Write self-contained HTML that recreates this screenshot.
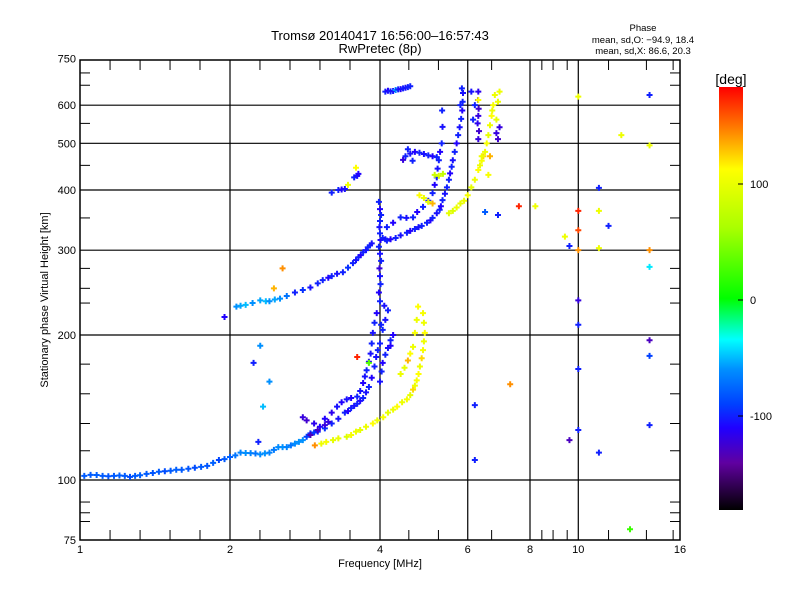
<!DOCTYPE html>
<html><head><meta charset="utf-8">
<style>
html,body{margin:0;padding:0;background:#fff;}
svg{display:block;font-family:"Liberation Sans",sans-serif;}
</style></head>
<body>
<svg id="chart" width="800" height="600" viewBox="0 0 800 600" xmlns="http://www.w3.org/2000/svg">
<defs>
<linearGradient id="cbar" x1="0" y1="1" x2="0" y2="0">
<stop offset="0" stop-color="#000000"/>
<stop offset="0.111" stop-color="#6000a0"/>
<stop offset="0.194" stop-color="#2000ff"/>
<stop offset="0.25" stop-color="#0040ff"/>
<stop offset="0.333" stop-color="#0090ff"/>
<stop offset="0.403" stop-color="#00ffff"/>
<stop offset="0.5" stop-color="#00ff00"/>
<stop offset="0.667" stop-color="#aaff00"/>
<stop offset="0.806" stop-color="#ffff00"/>
<stop offset="0.9" stop-color="#ff8000"/>
<stop offset="1" stop-color="#ff0000"/>
</linearGradient>
</defs>
<text x="380" y="40" text-anchor="middle" font-size="13">Tromsø 20140417 16:56:00–16:57:43</text>
<text x="380" y="53" text-anchor="middle" font-size="13">RwPretec (8p)</text>
<text x="643" y="31" text-anchor="middle" font-size="9.5">Phase</text>
<text x="643" y="43" text-anchor="middle" font-size="9.5">mean, sd,O: −94.9, 18.4</text>
<text x="643" y="54" text-anchor="middle" font-size="9.5">mean, sd,X:  86.6, 20.3</text>
<g id="grid"></g>
<g id="points"></g>
<rect x="80" y="60" width="600" height="480" fill="none" stroke="#000" stroke-width="1.5"/>
<g id="ticks"></g>
<text x="380" y="567" text-anchor="middle" font-size="11">Frequency [MHz]</text>
<text x="48" y="300" text-anchor="middle" font-size="11" transform="rotate(-90 48 300)">Stationary phase Virtual Height [km]</text>
<rect x="719" y="87" width="24" height="423" fill="url(#cbar)"/>
<text x="731" y="84" text-anchor="middle" font-size="14">[deg]</text>
<g id="cbticks"></g>
</svg>
<script>
// ---- axis tick data ----
const xMajor=[1,2,4,6,8,10,16];
const xMinor=[1.149,1.32,1.516,1.741,2.297,2.639,3.031,3.482,4.57,5.24,6.7,8.45,8.9,9.5,11.5,13.7,15.5];
const yMajor=[75,100,200,300,400,500,600,750];
const yMinor=[82,85.5,90,115,131,151,174,233,250,275,350,450,550,660,700];
const cbLabels=[100,0,-100];

// ---- series data: frequency [MHz], height [km], phase [deg] ----
const eoFreq=[1.02,1.05,1.08,1.11,1.14,1.17,1.2,1.23,1.26,1.29,1.32,1.36,1.4,1.44,1.48,1.52,1.56,1.6,1.65,1.7,1.75,1.8,1.85,1.9,1.95,2.0,2.05,2.1,2.15,2.2,2.25,2.3,2.35,2.4,2.45,2.5,2.55,2.6,2.65,2.7,2.75,2.8,2.85,2.9,2.95,3.0,3.1,3.2,3.3,3.4,3.45,3.5,3.55,3.6,3.65,3.7,3.75,3.8,3.85,3.9,3.93,3.96,4.0];
const eoHeight=[102,102.5,102.4,102,101.8,102,102.2,102,101.5,102,102.3,103,103.4,104,104.3,104.5,105,105,105.5,106,106.5,107,108.5,110,110.5,111.6,112.5,114,113.8,113.7,113.5,113,113.6,114,115.5,117,117,117,118,119,120,121,123,125,125.5,126,128,131,134,138,139,141,142.5,144,146,148,152,156,163,172,180,186,192];
const eoPhase=[-80,-80,-78,-80,-82,-80,-78,-80,-85,-80,-78,-80,-82,-80,-85,-80,-78,-80,-82,-85,-80,-82,-78,-88,-80,-78,-70,-65,-60,-65,-70,-62,-60,-65,-68,-62,-60,-65,-70,-62,-60,-60,-90,-95,-92,-100,-95,-100,-105,-100,-110,-100,-105,-100,-108,-100,-105,-100,-110,-100,-105,-100,-100];

const e2Freq=[2.8,2.85,2.95,3.03,3.1,3.2,3.28,3.35,3.43,3.5,3.6,3.65,3.7,3.73,3.76,3.8,3.83,3.85,3.87,3.9,3.94,2.9,3.0,3.1,3.15];
const e2Height=[135,133,131,129,134,138,142,145,147,148,149,153,159,164,169,176,183,192,202,212,222,124,127,130,132];
const e2Phase=[-120,-125,-115,-110,-110,-115,-105,-110,-105,-110,-100,-105,-110,-105,-100,-110,-105,-100,-105,-100,-110,-130,-125,-120,-120];

const e3Freq=[4.0,4.03,4.05,4.1,4.15,4.2,4.25,4.05,4.1,4.15,4.2,4.02,4.08];
const e3Height=[160,168,175,182,188,195,200,205,215,225,190,210,230];
const e3Phase=[-105,-100,-110,-100,-105,-100,-110,-100,-105,-100,-110,-100,-105];

const exFreq=[2.96,3.05,3.12,3.22,3.3,3.43,3.5,3.58,3.65,3.75,3.87,3.95,4.06,4.15,4.25,4.33,4.43,4.53,4.6,4.66,4.7,4.74,4.78,4.81,4.85,4.88,4.9,4.92,4.9,4.88,4.4,4.48,4.55,4.6,4.66,4.7,4.74,4.77];
const exHeight=[118,119,120,121,122,123,124,126,127,129,131,133,135,138,140,142,145,147,150,154,157,161,166,172,179,186,194,202,212,222,166,171,177,183,189,202,215,229];
const exPhase=[140,100,105,95,100,90,105,100,95,100,110,100,105,95,100,110,100,105,95,120,100,105,110,100,120,105,100,110,100,105,100,95,130,110,100,105,100,110];

const e4Freq=[2.06,2.1,2.15,2.22,2.3,2.36,2.4,2.46,2.52,2.6,2.7,2.8,2.9,3.0,3.07,3.15,3.2,3.28,3.37,3.45,3.53,3.58,3.62,3.66,3.7,3.75,3.78,3.82,3.85];
const e4Height=[229,230,231,233,236,235,235,237,238,241,245,248,251,256,260,263,265,268,270,276,282,286,290,293,297,300,304,307,310];
const e4Phase=[-60,-55,-50,-60,-55,-50,-60,-55,-60,-70,-100,-95,-105,-100,-100,-110,-100,-105,-100,-95,-100,-105,-100,-110,-100,-105,-100,-100,-105];

const vFreq=[4.0,3.98,4.01,4.0,3.99,4.02,4.0,3.98,4.01,4.0,3.99,4.0,4.02,4.0,3.98];
const vHeight=[235,245,255,265,275,285,295,305,315,325,335,345,355,365,378];
const vPhase=[-100,-110,-100,-105,-120,-100,-105,-100,-110,-100,-105,-100,-100,-110,-100];

const f2oFreq=[4.05,4.1,4.13,4.2,4.3,4.4,4.53,4.6,4.7,4.78,4.85,4.97,5.05,5.1,5.2,5.27,5.3,5.34,5.4,5.45,5.5,5.53,5.57,5.6,5.65,5.7,5.74,5.78,5.82,5.85,5.86,5.87,5.84,5.8];
const f2oHeight=[318,316,314,316,318,322,326,329,332,335,337,342,346,350,358,364,370,381,393,405,420,433,447,461,480,500,520,540,562,585,610,636,650,600];
const f2oPhase=[-100,-105,-100,-110,-100,-105,-100,-110,-100,-105,-100,-100,-110,-100,-105,-100,-110,-100,-105,-100,-100,-110,-100,-105,-100,-110,-100,-105,-100,-110,-100,-105,-100,-100];

const f2bFreq=[4.13,4.25,4.4,4.52,4.66,4.75,4.88,5.0,5.1,5.15,5.2,5.22,5.25,5.28,5.32,5.34,5.33,4.5,4.6,4.7,4.8,4.9,5.0,5.1,5.2,4.45,4.55,4.65];
const f2bHeight=[335,342,351,350,351,360,369,380,394,410,425,443,461,480,500,541,585,470,476,480,478,475,472,470,468,462,486,460];
const f2bPhase=[-100,-110,-100,-105,-100,-110,-100,-105,-100,-110,-100,-105,-100,-110,-100,-105,-100,-100,-105,-110,-100,-105,-100,-110,-100,-120,-100,-100];

const f2cFreq=[6.3,6.32,6.28,6.3,6.31,6.29,6.3,6.9,6.85,6.95,6.15,6.2,6.1];
const f2cHeight=[510,530,550,570,590,615,640,510,525,540,560,600,640];
const f2cPhase=[-120,-125,-115,-120,-125,-120,-115,-125,-120,-120,-100,-100,-105];

const f2xFreq=[5.5,5.6,5.7,5.8,4.8,4.9,5.0,5.1,5.15,5.25,5.35,5.9,6.0,6.1,6.2,6.3,6.35,6.4,6.45,6.5,6.55,6.6,6.65,6.7,6.72,6.75,6.8,6.85,6.9,6.6,6.65,6.95,6.3,6.4];
const f2xHeight=[358,362,368,375,390,385,378,375,430,428,432,380,390,405,420,440,450,460,470,480,500,520,545,570,585,600,630,560,610,430,470,640,615,470];
const f2xPhase=[95,90,100,95,110,100,95,130,80,85,75,100,105,95,100,110,100,105,120,100,105,95,100,110,100,105,100,95,100,105,130,100,110,100];

const rayFreq=[4.1,4.15,4.2,4.25,4.3,4.35,4.4,4.45,4.5,4.55,4.6];
const rayHeight=[640,643,641,642,645,647,648,650,652,654,657];
const rayPhase=[-100,-110,-100,-105,-60,-100,-110,-100,-105,-100,-100];

const spFreq=[3.3,3.35,3.4,3.55,3.6,3.62,3.45,3.58,3.2];
const spHeight=[400,401,402,425,428,432,410,445,395];
const spPhase=[-100,-110,-105,-100,-105,-110,100,110,-100];

const outFreq=[2.23,2.55,2.45,1.95,2.33,2.28,6.2,6.2,7.3,9.6,10,11,10,10,10,10,10,10,9.6,9.4,11,11,11.5,11,13.9,13.9,13.9,13.9,13.9,13.9,13.9,10,12.7,12.2,7.6,8.2,6.5,6.9,2.4,2.3,3.6,3.8];
const outHeight=[175,275,250,218,142,120,110,143,158,121,127,114,170,210,236,300,362,330,306,320,303,362,337,404,181,130,195,277,300,495,630,625,79,520,370,370,360,355,160,190,180,175];
const outPhase=[-100,140,130,-110,-50,-100,-100,-100,140,-130,-100,-100,-100,-100,-120,140,170,160,-100,100,100,100,-100,-100,-90,-100,-130,-40,140,100,-100,100,20,100,170,100,-80,-100,-60,-60,170,30];

// ---- axes ----
const X0=80,X1=680,Y0=540,Y1=60;
function xs(f){return X0+(X1-X0)*Math.log2(f)/4;}
function ys(h){return 480-145*Math.log2(h/100);}
function cbY(p){return 300-p*1.16;}

// phase colour scale
const cStops=[[-180,[0,0,0]],[-140,[96,0,160]],[-110,[32,0,255]],[-90,[0,64,255]],[-60,[0,144,255]],[-35,[0,255,255]],[0,[0,255,0]],[60,[170,255,0]],[110,[255,255,0]],[144,[255,128,0]],[180,[255,0,0]]];
function pcol(p){
  if(p<=cStops[0][0])return 'rgb(0,0,0)';
  for(let i=1;i<cStops.length;i++){
    if(p<=cStops[i][0]){
      const a=cStops[i-1],b=cStops[i],t=(p-a[0])/(b[0]-a[0]);
      const c=a[1].map((v,k)=>Math.round(v+(b[1][k]-v)*t));
      return 'rgb('+c.join(',')+')';
    }
  }
  return 'rgb(255,0,0)';
}

const NS='http://www.w3.org/2000/svg';
function mk(tag,attrs,parent){const e=document.createElementNS(NS,tag);for(const k in attrs)e.setAttribute(k,attrs[k]);parent.appendChild(e);return e;}

const grid=document.getElementById('grid');
const ticks=document.getElementById('ticks');
xMajor.forEach(f=>{
  const x=xs(f);
  if(f>1&&f<16){
    const l=mk('line',{x1:x,x2:x,y1:Y1,y2:Y0,stroke:'#000','stroke-width':1.2},grid);
    
    
  }
  const t=mk('text',{x:x,y:553,'text-anchor':'middle','font-size':11},ticks);
  t.textContent=String(f);
  
  
});
xMinor.forEach(f=>{
  const x=xs(f);
  const a=mk('line',{x1:x,x2:x,y1:Y0,y2:Y0-10,stroke:'#000','stroke-width':1},ticks);
  
  
  const b=mk('line',{x1:x,x2:x,y1:Y1,y2:Y1+10,stroke:'#000','stroke-width':1},ticks);
  
  
});
yMajor.forEach(h=>{
  const y=ys(h);
  if(h>75&&h<750){
    const l=mk('line',{x1:X0,x2:X1,y1:y,y2:y,stroke:'#000','stroke-width':1.2},grid);
    
    
  }
  const t=mk('text',{x:76,y:y+4,'text-anchor':'end','font-size':11},ticks);
  t.textContent=String(h);
  
  
});
yMinor.forEach(h=>{
  const y=ys(h);
  const a=mk('line',{x1:X0,x2:X0+10,y1:y,y2:y,stroke:'#000','stroke-width':1},ticks);
  
  
  const b=mk('line',{x1:X1,x2:X1-10,y1:y,y2:y,stroke:'#000','stroke-width':1},ticks);
  
  
});

const cbt=document.getElementById('cbticks');
cbLabels.forEach(v=>{
  const y=cbY(v);
  const l=mk('line',{x1:743,x2:738,y1:y,y2:y,stroke:'#000','stroke-width':1},cbt);
  
  
  const t=mk('text',{x:750,y:y+4,'font-size':11},cbt);
  t.textContent=String(v);
  
  
});

// ---- points ----
const pts=document.getElementById('points');
const series=[
  ['e-o-trace',eoFreq,eoHeight,eoPhase],
  ['e-o-second-trace',e2Freq,e2Height,e2Phase],
  ['e-o-branch',e3Freq,e3Height,e3Phase],
  ['e-x-trace',exFreq,exHeight,exPhase],
  ['spread-trace',e4Freq,e4Height,e4Phase],
  ['f1-vertical-trace',vFreq,vHeight,vPhase],
  ['f2-o-trace',f2oFreq,f2oHeight,f2oPhase],
  ['f2-o-second-trace',f2bFreq,f2bHeight,f2bPhase],
  ['f2-o-high-trace',f2cFreq,f2cHeight,f2cPhase],
  ['f2-x-trace',f2xFreq,f2xHeight,f2xPhase],
  ['f2-ray-trace',rayFreq,rayHeight,rayPhase],
  ['sporadic-echoes',spFreq,spHeight,spPhase],
  ['scattered-echoes',outFreq,outHeight,outPhase]
];
series.forEach(s=>{
  const g=mk('g',{},pts);
  
  
  const F=s[1],H=s[2],P=s[3];
  for(let i=0;i<F.length;i++){
    const x=xs(F[i]),y=ys(H[i]),c=pcol(P[i]);
    const p=mk('path',{d:'M'+(x-3)+' '+y+'h6M'+x+' '+(y-3)+'v6',stroke:c,'stroke-width':2,fill:'none'},g);
    
    
  }
});
</script>
</body></html>
